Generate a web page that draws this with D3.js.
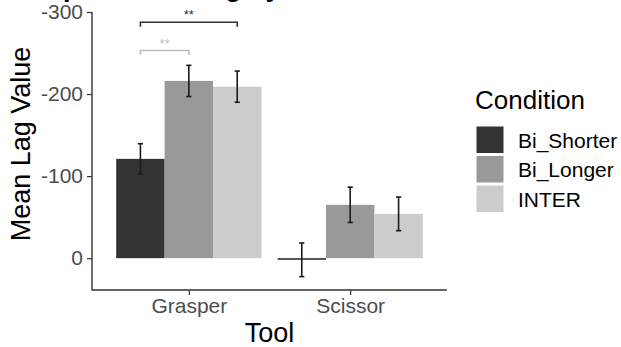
<!DOCTYPE html>
<html>
<head>
<meta charset="utf-8">
<script src="https://cdn.jsdelivr.net/npm/d3@7"></script>
<style>
  body { margin: 0; background: #fff; }
  svg { display: block; font-family: "Liberation Sans", Arial, sans-serif; }
</style>
</head>
<body>
<div id="chart"></div>
<script>
// data (lag values are negative, y axis is reversed)
const tools = ["Grasper", "Scissor"];
const conditions = ["Bi_Shorter", "Bi_Longer", "INTER"];
const meanLag = {
  Grasper: [-121, -216, -209],
  Scissor: [2, -65, -54]
};
const errLag = {
  Grasper: [18.5, 19, 19],
  Scissor: [20.5, 21.5, 20.5]
};
const yTicks = [-300, -200, -100, 0];
// significance brackets: tool, from condition, to condition, level, label
const sigBrackets = [
  { tool: "Grasper", from: "Bi_Shorter", to: "INTER", level: -287.5, label: "**", dark: true },
  { tool: "Grasper", from: "Bi_Shorter", to: "Bi_Longer", level: -253, label: "**", dark: false }
];

const width = 621, height = 347;
const fills = ["#333333", "#999999", "#cccccc"];

const svg = d3.select("#chart").append("svg")
  .attr("width", width)
  .attr("height", height);

const panel = { left: 92, right: 447, top: 12, bottom: 290 };

const x = d3.scalePoint()
  .domain(tools)
  .range([panel.left, panel.right])
  .padding(0.6);

const dodge = d3.scaleBand()
  .domain(conditions)
  .range([-x.step() * 0.45, x.step() * 0.45]);

const y = d3.scaleLinear()
  .domain([-300, 38.8])
  .range([panel.top, panel.bottom]);

const color = d3.scaleOrdinal().domain(conditions).range(fills);

// title is cropped in the original, only descenders peek in at the top edge
svg.append("text")
  .attr("x", 30)
  .attr("y", -4)
  .attr("font-size", 27)
  .attr("font-weight", "bold")
  .text("Experiment: Lag by Tool and Condition");

// bars
const rows = [];
tools.forEach(t => conditions.forEach((c, i) => {
  rows.push({ tool: t, cond: c, value: meanLag[t][i], err: errLag[t][i] });
}));

svg.append("g").selectAll("rect")
  .data(rows)
  .enter()
  .append("rect")
  .attr("x", d => x(d.tool) + dodge(d.cond))
  .attr("width", dodge.bandwidth())
  .attr("y", d => Math.min(y(d.value), y(0)))
  .attr("height", d => Math.abs(y(d.value) - y(0)))
  .attr("fill", d => color(d.cond));

// error bars
const cap = 2.6;
const eb = svg.append("g")
  .attr("stroke", "#1a1a1a")
  .attr("stroke-width", 1.6);

rows.forEach(d => {
  const cx = x(d.tool) + dodge(d.cond) + dodge.bandwidth() / 2;
  const y1 = y(d.value - d.err), y2 = y(d.value + d.err);
  eb.append("line").attr("x1", cx).attr("x2", cx).attr("y1", y1).attr("y2", y2);
  eb.append("line").attr("x1", cx - cap).attr("x2", cx + cap).attr("y1", y1).attr("y2", y1);
  eb.append("line").attr("x1", cx - cap).attr("x2", cx + cap).attr("y1", y2).attr("y2", y2);
});

// significance brackets
sigBrackets.forEach(b => {
  const x1 = x(b.tool) + dodge(b.from) + dodge.bandwidth() / 2;
  const x2 = x(b.tool) + dodge(b.to) + dodge.bandwidth() / 2;
  const yy = y(b.level);
  const col = b.dark ? "#333333" : "#bdbdbd";
  svg.append("path")
    .attr("d", `M${x1},${yy + 4.5}V${yy}H${x2}V${yy + 4.5}`)
    .attr("fill", "none")
    .attr("stroke", col)
    .attr("stroke-width", 1.6);
  svg.append("text")
    .attr("x", (x1 + x2) / 2)
    .attr("y", yy - 3)
    .attr("text-anchor", "middle")
    .attr("font-size", 13)
    .attr("fill", col)
    .text(b.label);
});

// y axis (plain hyphen minus like the original)
const yAxis = svg.append("g")
  .attr("transform", `translate(${panel.left},0)`)
  .call(d3.axisLeft(y).tickValues(yTicks).tickFormat(d => String(d))
    .tickSize(5).tickPadding(4).tickSizeOuter(0));
yAxis.select(".domain").remove();
yAxis.selectAll(".tick line").attr("stroke", "#333").attr("stroke-width", 1.2);
yAxis.selectAll(".tick text")
  .attr("font-size", 21)
  .attr("font-family", "Liberation Sans, Arial, sans-serif")
  .attr("fill", "#4d4d4d");

// x axis
const xAxis = svg.append("g")
  .attr("transform", `translate(0,${panel.bottom})`)
  .call(d3.axisBottom(x).tickSize(5).tickPadding(3).tickSizeOuter(0));
xAxis.select(".domain").remove();
xAxis.selectAll(".tick line").attr("stroke", "#333").attr("stroke-width", 1.2);
xAxis.selectAll(".tick text")
  .attr("font-size", 21)
  .attr("font-family", "Liberation Sans, Arial, sans-serif")
  .attr("fill", "#4d4d4d");

// axis lines (L shape)
svg.append("path")
  .attr("d", `M${panel.left},${panel.top}V${panel.bottom}H${panel.right}`)
  .attr("fill", "none")
  .attr("stroke", "#333")
  .attr("stroke-width", 1.4);

// axis titles
svg.append("text")
  .attr("x", (panel.left + panel.right) / 2)
  .attr("y", 342)
  .attr("text-anchor", "middle")
  .attr("font-size", 27)
  .text("Tool");

svg.append("text")
  .attr("transform", "translate(30,144) rotate(-90)")
  .attr("text-anchor", "middle")
  .attr("font-size", 27)
  .text("Mean Lag Value");

// legend
const legend = svg.append("g").attr("transform", "translate(476,0)");
legend.append("text")
  .attr("x", -1)
  .attr("y", 109)
  .attr("font-size", 26)
  .text("Condition");

conditions.forEach((c, i) => {
  const top = 126.5 + i * 29.5;
  legend.append("rect")
    .attr("x", 0.5)
    .attr("y", top)
    .attr("width", 27)
    .attr("height", 26.5)
    .attr("fill", color(c));
  legend.append("text")
    .attr("x", 42)
    .attr("y", top + 13.5 + 7.5)
    .attr("font-size", 21)
    .text(c);
});
</script>
</body>
</html>
